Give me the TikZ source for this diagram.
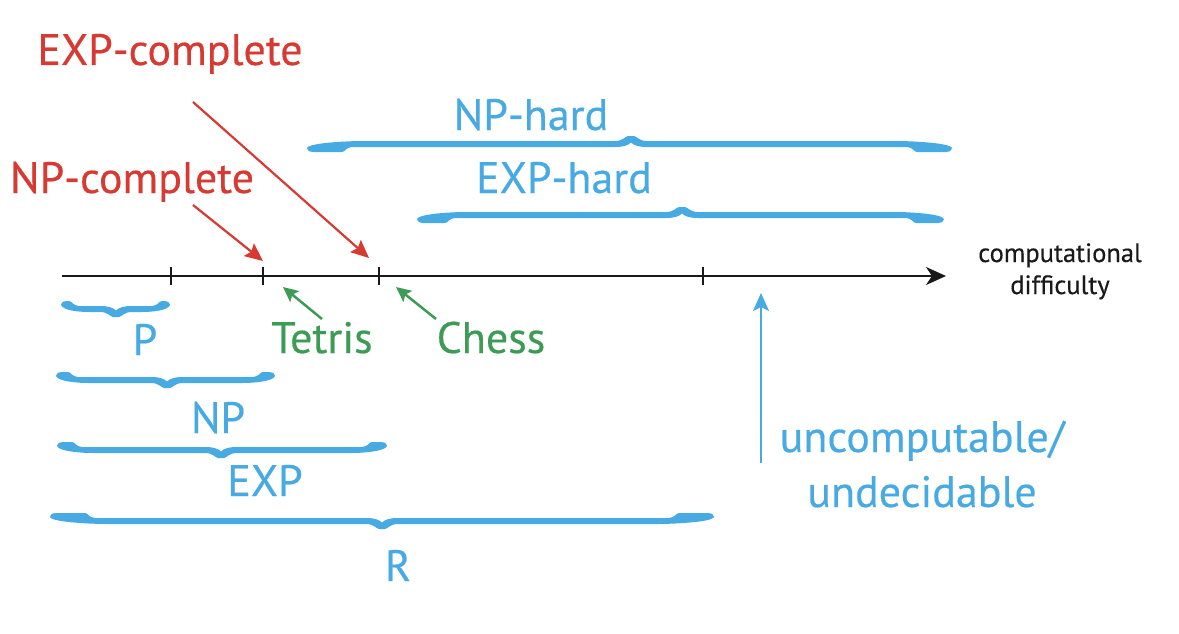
\documentclass[tikz,border=0pt]{standalone}
\usepackage{fontspec}
\setmainfont{PT Sans}[FakeBold=0.35]
\usetikzlibrary{arrows.meta}
\definecolor{cred}{RGB}{214,58,50}
\definecolor{cgreen}{RGB}{62,155,86}
\definecolor{cblue}{RGB}{72,170,226}
\definecolor{cblack}{RGB}{25,25,25}
% #1 x1, #2 x2, #3 xtip, #4 y band, #5 direction (1 tip down, -1 tip up), #6 end blob length
\newcommand\mybrace[6]{%
  \begin{scope}[shift={(0,#4)},yscale=#5]
    \fill[cblue] ({#1},-4)
      .. controls ({#1+1},-7.5) and ({#1+3},-8) .. ({#1+6},-8)
      -- ({#1+#6},-8)
      .. controls ({#1+#6+3},-8) and ({#1+#6+4},-3.2) .. ({#1+#6+10},-3)
      -- ({#3-16},-3)
      .. controls ({#3-8},-3) and ({#3-3},-1.5) .. ({#3},1.5)
      .. controls ({#3+3},-1.5) and ({#3+8},-3) .. ({#3+16},-3)
      -- ({#2-#6-10},-3)
      .. controls ({#2-#6-4},-3.2) and ({#2-#6-3},-8) .. ({#2-#6},-8)
      -- ({#2-6},-8)
      .. controls ({#2-3},-8) and ({#2-1},-7.5) .. ({#2},-4)
      .. controls ({#2-2},1.5) and ({#2-#6-10},3) .. ({#2-#6-20},3)
      -- ({#3+16},3)
      .. controls ({#3+8},3) and ({#3+6},7.5) .. ({#3+3},8)
      -- ({#3-3},8)
      .. controls ({#3-6},7.5) and ({#3-8},3) .. ({#3-16},3)
      -- ({#1+#6+20},3)
      .. controls ({#1+#6+10},3) and ({#1+2},1.5) .. ({#1},-4) -- cycle;
  \end{scope}}
\tikzset{
  big/.style={font=\fontsize{44}{55}\selectfont, anchor=base, inner sep=0pt},
  bluelab/.style={big, text=cblue},
  redlab/.style={big, text=cred},
  greenlab/.style={big, text=cgreen},
  redarr/.style={draw=cred, line width=2.2pt, -{Stealth[length=18pt,width=16pt,inset=3pt]}},
  greenarr/.style={draw=cgreen, line width=2.5pt, -{Stealth[length=15pt,width=14pt,inset=3pt]}},
  bluearr/.style={draw=cblue, line width=2.5pt, -{Stealth[length=18pt,width=16pt,inset=4pt]}},
  axis/.style={draw=cblack, line width=2.2pt, -{Stealth[length=20pt,width=18pt,inset=6pt]}},
  tickmark/.style={draw=cblack, line width=2pt},
}
\begin{document}
\begin{tikzpicture}[x=1pt,y=-1pt]
\path[use as bounding box] (0,0) rectangle (1179,634);
% axis
\coordinate (ax0) at (62,276);
\coordinate (ax1) at (946,276);
\draw[axis] (ax0) -- (ax1);
\foreach \n/\tx in {tA/171,tB/263,tC/379,tD/703}{
  \coordinate (\n top) at (\tx,267);
  \coordinate (\n bot) at (\tx,285);
  \draw[tickmark] (\n top) -- (\n bot);
}
\node[anchor=base, inner sep=0pt, align=center, text=cblack, font=\fontsize{26.5}{32}\selectfont] (cd) at (1060,294) {computational\\difficulty};
% red labels and arrows
\node[redlab] (expc) at (170,65) {EXP-complete};
\node[redlab] (npc) at (132,193) {NP-complete};
\coordinate (r1s) at (193,102);
\coordinate (r1e) at (369,258);
\coordinate (r2s) at (193,205);
\coordinate (r2e) at (263,261);
\draw[redarr] (r1s) -- (r1e);
\draw[redarr] (r2s) -- (r2e);
% green labels and arrows
\node[greenlab] (tetris) at (322,353) {Tetris};
\node[greenlab] (chess) at (491,353) {Chess};
\coordinate (g1s) at (322,319);
\coordinate (g1e) at (283,287);
\coordinate (g2s) at (436,319);
\coordinate (g2e) at (396,287);
\draw[greenarr] (g1s) -- (g1e);
\draw[greenarr] (g2s) -- (g2e);
% upper braces
\mybrace{307}{952}{631}{144}{-1}{35}
\node[bluelab] (nphard) at (531,130) {NP-hard};
\mybrace{417}{944}{682}{215}{-1}{28}
\node[bluelab] (exphard) at (564,193) {EXP-hard};
% lower braces
\mybrace{61}{170}{116}{309}{1}{8}
\node[bluelab] (P) at (145,355) {P};
\mybrace{56}{275}{167}{380}{1}{12}
\node[bluelab] (NP) at (218,433) {NP};
\mybrace{57}{387}{221}{450}{1}{15}
\node[bluelab] (EXP) at (265,496) {EXP};
\mybrace{50}{714}{382}{521}{1}{35}
\node[bluelab] (R) at (398,581) {R};
% uncomputable
\node[bluelab, align=center] (unc) at (922,507) {uncomputable/\\undecidable};
\coordinate (b1s) at (761,463);
\coordinate (b1e) at (761,293);
\draw[bluearr] (b1s) -- (b1e);
\end{tikzpicture}
\end{document}
